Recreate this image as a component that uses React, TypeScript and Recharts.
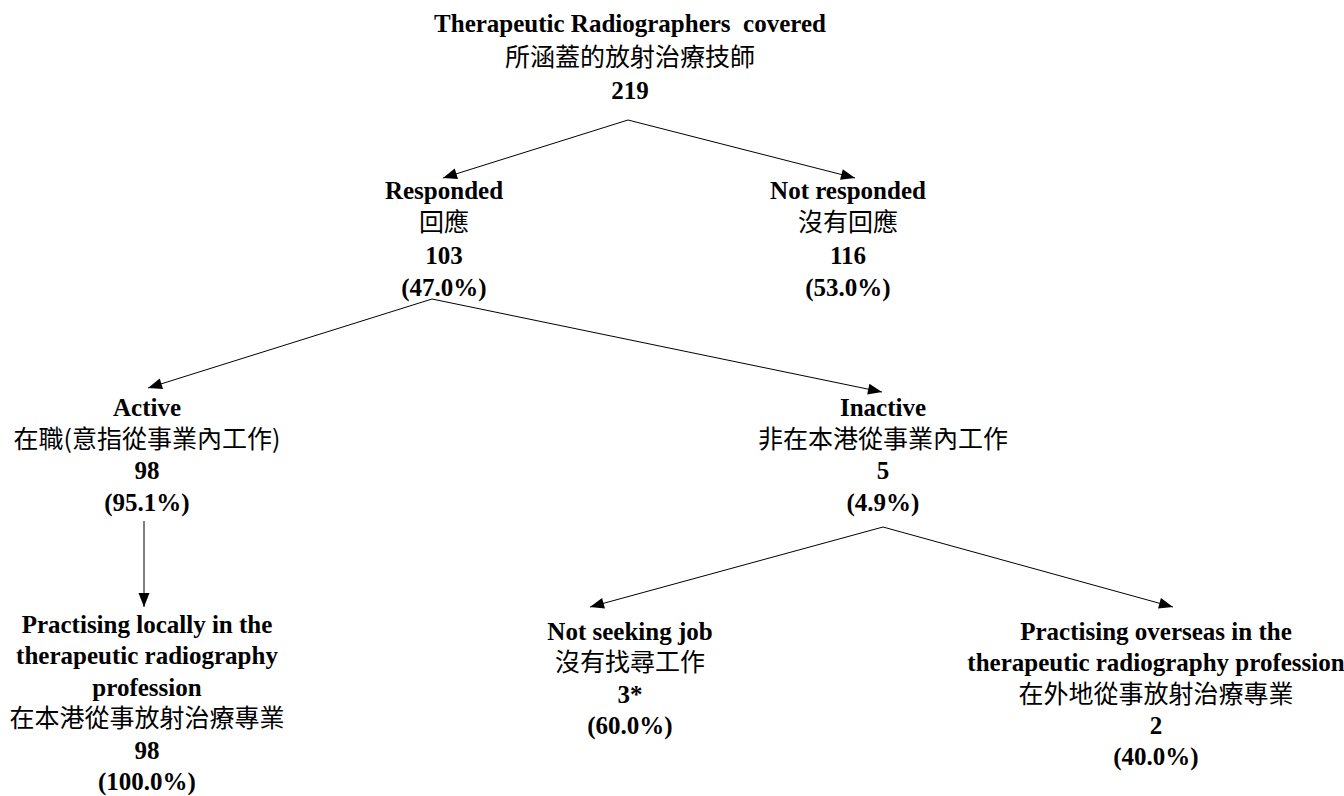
import React from 'react'
import { ScatterChart, Scatter, XAxis, YAxis } from 'recharts'

const W = 1344
const H = 796

// tree contents
const nodeEn = [
  ['Therapeutic Radiographers  covered'],
  ['Responded'],
  ['Not responded'],
  ['Active'],
  ['Inactive'],
  ['Practising locally in the', 'therapeutic radiography', 'profession'],
  ['Not seeking job'],
  ['Practising overseas in the', 'therapeutic radiography profession'],
]
const nodeZh = [
  '所涵蓋的放射治療技師',
  '回應',
  '沒有回應',
  '在職(意指從事業內工作)',
  '非在本港從事業內工作',
  '在本港從事放射治療專業',
  '沒有找尋工作',
  '在外地從事放射治療專業',
]
const nodeCounts = [219, 103, 116, 98, 5, 98, 3, 2]
const countNotes = ['', '', '', '', '', '', '*', '']
const nodePercents = [null, 47.0, 53.0, 95.1, 4.9, 100.0, 60.0, 40.0]
const nodeParents = [-1, 0, 0, 1, 1, 3, 4, 4]

// where each box sits on the page (x = text centre, y = first baseline),
// where arrows leave it (out) and where the arrow into it lands (in)
const nodeLayout = [
  { x: 630, y: 32, gap: 33.5, outX: 628, outY: 120, inX: 0, inY: 0 },
  { x: 444, y: 199, gap: 32.4, outX: 432, outY: 299, inX: 443, inY: 178 },
  { x: 848, y: 199, gap: 32.4, outX: 0, outY: 0, inX: 855, inY: 178 },
  { x: 147, y: 416, gap: 31.5, outX: 144, outY: 521, inX: 148, inY: 388 },
  { x: 883, y: 416, gap: 31.5, outX: 883, outY: 527, inX: 882, inY: 392 },
  { x: 147, y: 633, gap: 31.4, outX: 0, outY: 0, inX: 144, inY: 607 },
  { x: 630, y: 640, gap: 31.3, outX: 0, outY: 0, inX: 590, inY: 607 },
  { x: 1156, y: 640, gap: 31.3, outX: 0, outY: 0, inX: 1173, inY: 607 },
]

const SERIF = '"Liberation Serif", "Times New Roman", serif'
const CJK = '"Noto Sans CJK TC", "Noto Sans CJK SC", sans-serif'

const nodeData = nodeEn.map((en, i) => ({
  x: nodeLayout[i].x,
  y: nodeLayout[i].y,
  gap: nodeLayout[i].gap,
  lines: [
    ...en.map((t) => ({ t, zh: false })),
    { t: nodeZh[i], zh: true },
    { t: `${nodeCounts[i]}${countNotes[i]}`, zh: false },
    ...(nodePercents[i] == null ? [] : [{ t: `(${nodePercents[i]!.toFixed(1)}%)`, zh: false }]),
  ],
}))

const edges = nodeParents
  .map((p, i) => ({ p, i }))
  .filter((e) => e.p >= 0)
  .map(({ p, i }) => {
    const a = nodeLayout[p]
    const b = nodeLayout[i]
    const angle = Math.atan2(b.inY - a.outY, b.inX - a.outX)
    return [
      { x: a.outX, y: a.outY, tip: false, angle },
      { x: b.inX, y: b.inY, tip: true, angle },
    ]
  })

function NodeShape(props: any) {
  const { cx, cy, payload } = props
  return (
    <g>
      {payload.lines.map((l: any, k: number) => (
        <text
          key={k}
          x={cx}
          y={cy + k * payload.gap}
          textAnchor="middle"
          fill="#000"
          fontSize={25}
          fontFamily={l.zh ? CJK : SERIF}
          fontWeight={l.zh ? 400 : 700}
          style={{ whiteSpace: 'pre' }}
        >
          {l.t}
        </text>
      ))}
    </g>
  )
}

function ArrowShape(props: any) {
  const { cx, cy, payload } = props
  if (!payload.tip) return <g />
  const len = 14
  const half = 5.5
  const c = Math.cos(payload.angle)
  const s = Math.sin(payload.angle)
  const bx = cx - len * c
  const by = cy - len * s
  const pts = [
    [cx, cy],
    [bx - half * s, by + half * c],
    [bx + half * s, by - half * c],
  ]
  return <polygon points={pts.map((q) => q.join(',')).join(' ')} fill="#000" />
}

export default function App() {
  return (
    <div style={{ position: 'absolute', left: 0, top: 0, width: W, height: H, background: '#fff' }}>
      <ScatterChart width={W} height={H} margin={{ top: 0, right: 0, bottom: 0, left: 0 }}>
        <XAxis type="number" dataKey="x" domain={[0, W]} hide allowDataOverflow />
        <YAxis type="number" dataKey="y" domain={[0, H]} reversed hide allowDataOverflow />
        {edges.map((d, k) => (
          <Scatter
            key={k}
            data={d}
            line={{ stroke: '#000', strokeWidth: 1 }}
            shape={ArrowShape}
            fill="#000"
            isAnimationActive={false}
          />
        ))}
        <Scatter data={nodeData} shape={NodeShape} isAnimationActive={false} />
      </ScatterChart>
    </div>
  )
}
